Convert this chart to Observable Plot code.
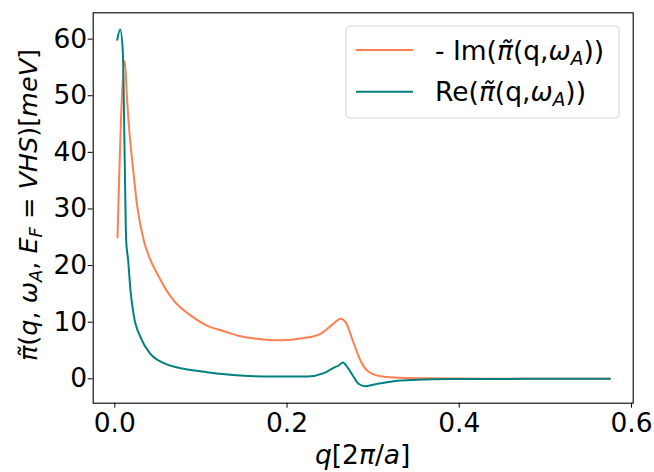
<!DOCTYPE html>
<html>
<head>
<meta charset="utf-8">
<script src="https://cdn.jsdelivr.net/npm/d3@7"></script>
<script src="https://cdn.jsdelivr.net/npm/@observablehq/plot@0.6"></script>
<style>
  html, body { margin: 0; padding: 0; background: white; }
  #chart { width: 654px; height: 472px; }
</style>
</head>
<body>
<div id="chart"></div>
<script>
// Series: -Im(pi~(q, omega_A))
const qIm = [0.0031, 0.0116, 0.014, 0.017, 0.0202, 0.026, 0.0337, 0.040, 0.0492, 0.0685, 0.0879, 0.107, 0.1266, 0.146, 0.165, 0.192, 0.2195, 0.2389, 0.2543, 0.262, 0.268, 0.2776, 0.2854, 0.293, 0.3086, 0.332, 0.36, 0.40, 0.45, 0.50, 0.55, 0.575];
const imVals = [25, 56.2, 50, 43.5, 38.6, 30.5, 24.4, 21.5, 18.55, 13.8, 11.2, 9.4, 8.4, 7.5, 7.07, 6.8, 7.2, 7.95, 9.8, 10.6, 10.0, 6.2, 3.2, 1.47, 0.46, 0.17, 0.08, 0.04, 0.02, 0.01, 0.01, 0.01];
// Series: Re(pi~(q, omega_A))
const qRe = [0.0028, 0.0063, 0.0093, 0.0115, 0.0132, 0.0155, 0.0182, 0.022, 0.0298, 0.0414, 0.0569, 0.080, 0.107, 0.146, 0.1846, 0.2235, 0.2427, 0.254, 0.26, 0.265, 0.27, 0.2776, 0.283, 0.291, 0.305, 0.324, 0.351, 0.39, 0.45, 0.50, 0.575];
const reVals = [59.9, 61.7, 57.7, 38.6, 24.4, 20.9, 15.6, 11.2, 7.35, 4.4, 2.76, 1.77, 1.17, 0.58, 0.4, 0.4, 0.99, 1.94, 2.35, 2.9, 2.05, 0.28, -0.88, -1.3, -0.88, -0.42, -0.18, -0.05, -0.02, -0.01, -0.01];
// Ticks
const xTicks = [0.0, 0.2, 0.4, 0.6];
const yTicks = [0, 10, 20, 30, 40, 50, 60];
const seriesNames = ["Im", "Re"];
const seriesColors = ["coral", "teal"];

const imData = qIm.map((q, i) => ({q, v: imVals[i]}));
const reData = qRe.map((q, i) => ({q, v: reVals[i]}));

const FS = 26.5;
const chart = Plot.plot({
  width: 654,
  height: 472,
  marginLeft: 92.7,
  marginRight: 21.3,
  marginTop: 12.3,
  marginBottom: 69.3,
  style: {fontFamily: "DejaVu Sans", fontSize: FS + "px", color: "black", background: "white", overflow: "visible"},
  x: {domain: [-0.0251, 0.602]},
  y: {domain: [-4.31, 64.65]},
  marks: [
    Plot.axisX(xTicks, {tickSize: 5, tickPadding: 5, tickFormat: d => d.toFixed(1), label: null, fontSize: FS}),
    Plot.axisY(yTicks, {tickSize: 5, tickPadding: 1, tickFormat: d => String(d), label: null, fontSize: FS}),
    Plot.line(imData, {x: "q", y: "v", stroke: seriesColors[0], strokeWidth: 2, curve: "monotone-x"}),
    Plot.line(reData, {x: "q", y: "v", stroke: seriesColors[1], strokeWidth: 2, curve: "monotone-x"}),
    Plot.frame({stroke: "black", strokeWidth: 1.1})
  ]
});
document.getElementById("chart").appendChild(chart);

const svg = d3.select(chart);
function addMath(textSel, parts, fs) {
  let shifted = 0;
  parts.forEach(p => {
    const t = textSel.append("tspan").text(p.t);
    if (p.i) t.style("font-style", "italic");
    if (p.sub) {
      t.style("font-size", (fs * 0.7) + "px");
      if (!shifted) { t.attr("dy", 5); shifted = 5; }
    } else if (shifted) {
      t.attr("dy", -shifted); shifted = 0;
    }
  });
}
// Y label
const YFS = 25.5;
const yl = svg.append("text")
  .attr("transform", "translate(36.7,205) rotate(-90)")
  .attr("text-anchor", "middle")
  .style("font-size", YFS + "px");
addMath(yl, [
  {t: "π̃", i: 1}, {t: "("}, {t: "q", i: 1}, {t: ", "}, {t: "ω", i: 1}, {t: "A", i: 1, sub: 1},
  {t: ", "}, {t: "E", i: 1}, {t: "F", i: 1, sub: 1}, {t: " = "}, {t: "VHS", i: 1}, {t: ")["}, {t: "meV", i: 1}, {t: "]"}
], YFS);
// X label
const xl = svg.append("text")
  .attr("x", 362.7).attr("y", 464)
  .attr("text-anchor", "middle")
  .style("font-size", FS + "px");
addMath(xl, [{t: "q", i: 1}, {t: "[2"}, {t: "π", i: 1}, {t: "/"}, {t: "a", i: 1}, {t: "]"}], FS);

// Legend
const lg = svg.append("g");
lg.append("rect").attr("x", 346).attr("y", 26).attr("width", 273).attr("height", 92)
  .attr("rx", 4).attr("fill", "white").attr("fill-opacity", 0.8).attr("stroke", "#d6d6d6").attr("stroke-width", 1.1);
const legendTexts = [
  [{t: "- Im("}, {t: "π̃", i: 1}, {t: "(q,"}, {t: "ω", i: 1}, {t: "A", i: 1, sub: 1}, {t: "))"}],
  [{t: "Re("}, {t: "π̃", i: 1}, {t: "(q,"}, {t: "ω", i: 1}, {t: "A", i: 1, sub: 1}, {t: "))"}]
];
seriesNames.forEach((n, k) => {
  const yy = 50 + k * 41.7;
  lg.append("line").attr("x1", 356).attr("x2", 413).attr("y1", yy).attr("y2", yy)
    .attr("stroke", seriesColors[k]).attr("stroke-width", 2);
  const tx = lg.append("text").attr("x", 435).attr("y", yy + 9.5)
    .attr("text-anchor", "start").style("font-size", FS + "px");
  addMath(tx, legendTexts[k], FS);
});
</script>
</body>
</html>
